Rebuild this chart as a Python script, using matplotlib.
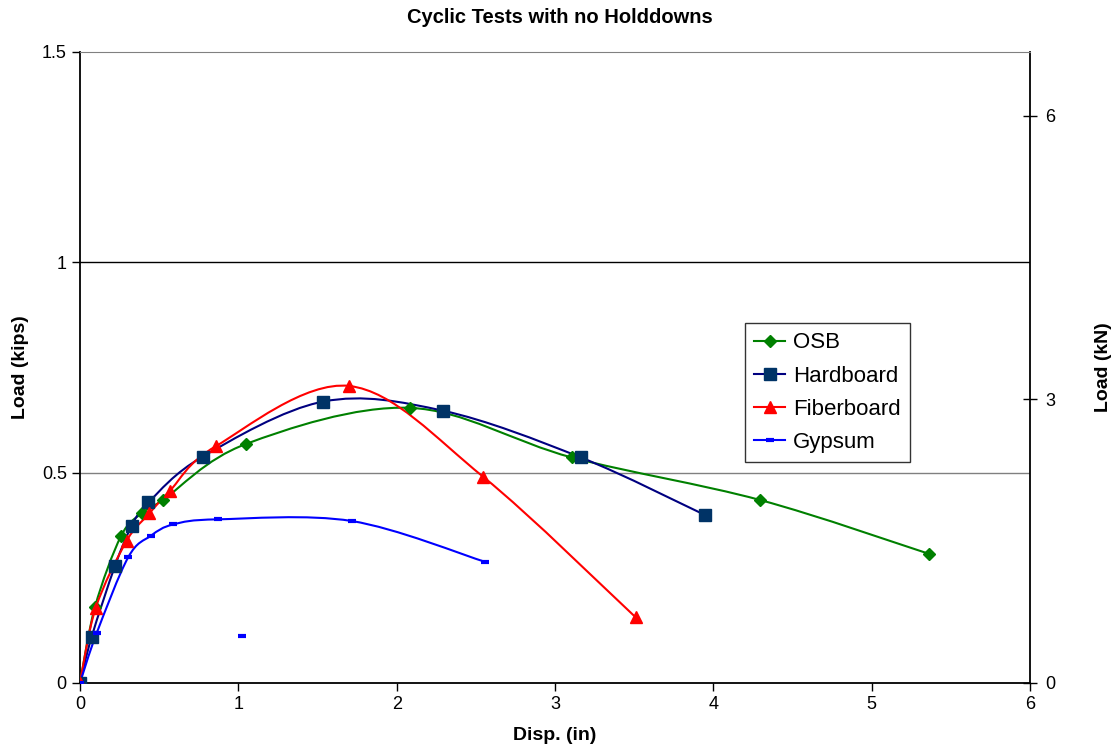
import matplotlib
matplotlib.use("Agg")
import matplotlib.pyplot as plt
from matplotlib.path import Path
from matplotlib.patches import PathPatch
from matplotlib.lines import Line2D
import numpy as np

plt.rcParams['font.family'] = ['Liberation Sans', 'DejaVu Sans']

# data (disp in inches, load in kips)
osb_x = [0, 0.095, 0.259, 0.392, 0.524, 1.048, 2.084, 3.107, 4.295, 5.362]
osb_y = [0, 0.181, 0.349, 0.404, 0.435, 0.568, 0.654, 0.536, 0.435, 0.307]

hard_x = [0, 0.074, 0.221, 0.326, 0.432, 0.775, 1.537, 2.295, 3.164, 3.949]
hard_y = [0, 0.110, 0.278, 0.373, 0.429, 0.538, 0.669, 0.647, 0.536, 0.399]

fiber_x = [0, 0.099, 0.295, 0.438, 0.568, 0.859, 1.701, 2.547, 3.510]
fiber_y = [0, 0.178, 0.338, 0.403, 0.457, 0.563, 0.706, 0.490, 0.156]

gyp_x = [0, 0.105, 0.305, 0.448, 0.590, 0.874, 1.716, 2.558]
gyp_y = [0, 0.118, 0.299, 0.350, 0.377, 0.389, 0.385, 0.288]
gyp_lone_x = [1.021]
gyp_lone_y = [0.112]

KIPS_TO_KN = 4.448


def smooth_path(xs, ys):
    """ Bezier path through the points, like Excel's smoothed line. """
    p = np.column_stack([xs, ys]).astype(float)
    n = len(p)
    verts = [p[0]]
    codes = [Path.MOVETO]
    for i in range(n - 1):
        p0 = p[i - 1] if i > 0 else p[i]
        p3 = p[i + 2] if i + 2 < n else p[i + 1]
        c1 = p[i] + (p[i + 1] - p0) / 6.0
        c2 = p[i + 1] - (p3 - p[i]) / 6.0
        verts += [c1, c2, p[i + 1]]
        codes += [Path.CURVE4] * 3
    return Path(verts, codes)


fig = plt.figure(figsize=(11.2, 7.52), dpi=100)
ax = fig.add_axes([0.0714, 0.0918, 0.8482, 0.8391])

# name, x, y, line colour, marker, marker colour, size, edge width
series = [
    ("OSB", osb_x, osb_y, "#008000", "D", "#008000", 6, 1),
    ("Hardboard", hard_x, hard_y, "#000080", "s", "#003366", 8, 1),
    ("Fiberboard", fiber_x, fiber_y, "#ff0000", "^", "#ff0000", 8, 1),
    ("Gypsum", gyp_x, gyp_y, "#0000ff", "_", "#0000ff", 6, 3),
]

handles = []
for name, xs, ys, lc, mk, mc, ms, mew in series:
    ax.add_patch(PathPatch(smooth_path(xs, ys), fill=False, edgecolor=lc,
                           lw=1.5, zorder=3))
    ax.plot(xs, ys, ls='none', marker=mk, ms=ms, mfc=mc, mec=mc,
            mew=mew, zorder=4)
    h = Line2D([], [], color=lc, lw=1.5, marker=mk, ms=ms, mfc=mc, mec=mc,
               mew=mew)
    handles.append((h, name))

ax.plot(gyp_lone_x, gyp_lone_y, ls='none', marker='_', ms=6, mec="#0000ff",
        mew=3, zorder=4)

ax.set_xlim(0, 6)
ax.set_ylim(0, 1.5)
ax.set_xticks([0, 1, 2, 3, 4, 5, 6])
ax.set_yticks([0, 0.5, 1, 1.5])
ax.set_yticklabels(["0", "0.5", "1", "1.5"])
ax.tick_params(labelsize=13, direction='out', length=6, width=1)

ax.axhline(1.0, color='black', lw=1, zorder=1)
ax.axhline(0.5, color='#808080', lw=1, zorder=1)

ax.spines['top'].set_color('#808080')
for s in ['left', 'bottom', 'right']:
    ax.spines[s].set_color('black')
    ax.spines[s].set_linewidth(1.3)

ax.set_xlabel("Disp. (in)", fontsize=14, fontweight='bold')
ax.set_ylabel("Load (kips)", fontsize=14, fontweight='bold')
ax.xaxis.set_label_coords(0.5, -0.070)
ax.yaxis.set_label_coords(-0.054, 0.5)

ax2 = ax.twinx()
ax2.set_ylim(0, 1.5 * KIPS_TO_KN)
ax2.set_yticks([0, 3, 6])
ax2.tick_params(labelsize=13, direction='inout', length=10, width=1, pad=6)
ax2.set_ylabel("Load (kN)", fontsize=14, fontweight='bold')
ax2.yaxis.set_label_coords(1.068, 0.5)
for s in ax2.spines.values():
    s.set_visible(False)

fig.suptitle("Cyclic Tests with no Holddowns", fontsize=14.5,
             fontweight='bold', y=0.99)

leg = ax.legend([h for h, _ in handles], [n for _, n in handles],
                loc='upper left', bbox_to_anchor=(0.700, 0.5705),
                borderaxespad=0, fontsize=16, frameon=True, fancybox=False,
                handlelength=1.4, handletextpad=0.35, labelspacing=0.55,
                borderpad=0.42)
leg.get_frame().set_edgecolor('black')
leg.get_frame().set_linewidth(1)

fig.savefig("out.png", dpi=100)
